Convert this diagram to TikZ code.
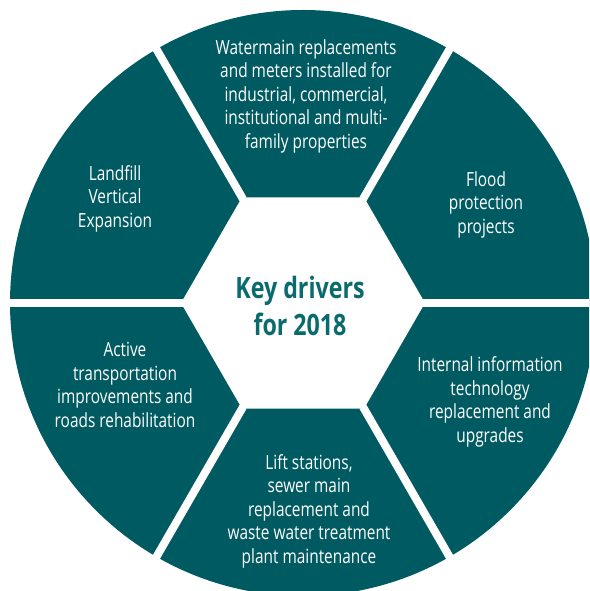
\documentclass[tikz,border=0pt]{standalone}
\usepackage{fontspec}
\setmainfont{Open Sans}[FakeStretch=0.79]
\definecolor{segteal}{HTML}{005A62}
\definecolor{keyteal}{HTML}{0A6B6F}
\begin{document}
\begin{tikzpicture}[x=1pt,y=1pt,
  seglabel/.style={text=white, align=center, inner sep=0pt,
    font=\fontsize{19.5}{23.5}\selectfont},
  keylabel/.style={text=keyteal, align=center, inner sep=0pt,
    font=\bfseries\fontsize{29.4}{37}\selectfont},
  gapline/.style={white, line width=8pt}]
\useasboundingbox (0,0) rectangle (589,591);
\clip (0,0) rectangle (589,591);
\begin{scope}[shift={(303,288)}]
  \fill[segteal] (0,0) circle[radius=293];
  \fill[white] (0:122) -- (60:122) -- (120:122) -- (180:122) -- (240:122) -- (300:122) -- cycle;
  \foreach \a in {0,60,...,300} \draw[gapline] (\a:120) -- (\a:320);
\end{scope}
\node[keylabel] (key) at (300,285.5) {Key drivers\\for 2018};
\node[seglabel] (water) at (306,495) {Watermain replacements\\and meters installed for\\industrial, commercial,\\institutional and multi-\\family properties};
\node[seglabel] (landfill) at (115,392.5) {Landfill\\Vertical\\Expansion};
\node[seglabel] (flood) at (486,386.5) {Flood\\protection\\projects};
\node[seglabel] (active) at (125,206) {Active\\transportation\\improvements and\\roads rehabilitation};
\node[seglabel] (internal) at (490,189) {Internal information\\technology\\replacement and\\upgrades};
\node[seglabel] (lift) at (309,80) {Lift stations,\\sewer main\\replacement and\\waste water treatment\\plant maintenance};
\end{tikzpicture}
\end{document}
